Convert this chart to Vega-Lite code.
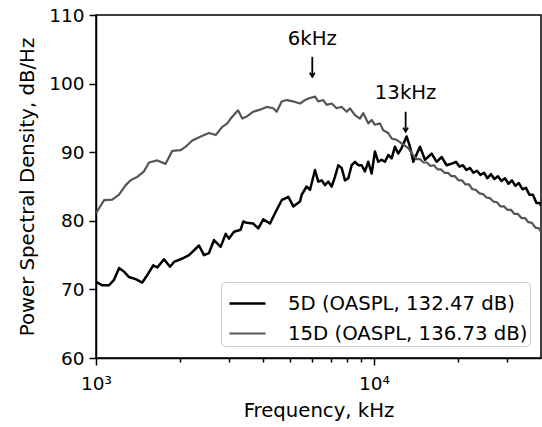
{
  "$schema": "https://vega.github.io/schema/vega-lite/v6.json",
  "width": 445,
  "height": 343,
  "autosize": {"type": "none"},
  "padding": {"left": 96, "top": 15, "right": 1, "bottom": 69},
  "background": "white",
  "config": {
    "font": "DejaVu Sans",
    "view": {"stroke": "black", "strokeWidth": 1.5},
    "axis": {
      "domainColor": "black", "domainWidth": 1.5, "tickColor": "black", "tickWidth": 1.5,
      "labelColor": "black", "titleColor": "black", "labelFont": "DejaVu Sans", "titleFont": "DejaVu Sans",
      "labelFontSize": 18.5, "titleFontSize": 19.7, "titleFontWeight": "normal", "grid": false
    }
  },
  "datasets": {
    "psd": [
      {"f":1000,"psd":71.1,"series":"5D (OASPL, 132.47 dB)"},
      {"f":1054,"psd":70.6,"series":"5D (OASPL, 132.47 dB)"},
      {"f":1114,"psd":70.6,"series":"5D (OASPL, 132.47 dB)"},
      {"f":1161,"psd":71.4,"series":"5D (OASPL, 132.47 dB)"},
      {"f":1210,"psd":73.1,"series":"5D (OASPL, 132.47 dB)"},
      {"f":1261,"psd":72.6,"series":"5D (OASPL, 132.47 dB)"},
      {"f":1314,"psd":71.8,"series":"5D (OASPL, 132.47 dB)"},
      {"f":1389,"psd":71.5,"series":"5D (OASPL, 132.47 dB)"},
      {"f":1467,"psd":71.0,"series":"5D (OASPL, 132.47 dB)"},
      {"f":1530,"psd":72.1,"series":"5D (OASPL, 132.47 dB)"},
      {"f":1607,"psd":73.5,"series":"5D (OASPL, 132.47 dB)"},
      {"f":1662,"psd":73.2,"series":"5D (OASPL, 132.47 dB)"},
      {"f":1756,"psd":74.4,"series":"5D (OASPL, 132.47 dB)"},
      {"f":1846,"psd":73.3,"series":"5D (OASPL, 132.47 dB)"},
      {"f":1908,"psd":74.0,"series":"5D (OASPL, 132.47 dB)"},
      {"f":2044,"psd":74.5,"series":"5D (OASPL, 132.47 dB)"},
      {"f":2161,"psd":75.0,"series":"5D (OASPL, 132.47 dB)"},
      {"f":2347,"psd":76.4,"series":"5D (OASPL, 132.47 dB)"},
      {"f":2446,"psd":75.0,"series":"5D (OASPL, 132.47 dB)"},
      {"f":2550,"psd":75.3,"series":"5D (OASPL, 132.47 dB)"},
      {"f":2658,"psd":77.2,"series":"5D (OASPL, 132.47 dB)"},
      {"f":2809,"psd":76.2,"series":"5D (OASPL, 132.47 dB)"},
      {"f":2928,"psd":78.1,"series":"5D (OASPL, 132.47 dB)"},
      {"f":3009,"psd":77.4,"series":"5D (OASPL, 132.47 dB)"},
      {"f":3136,"psd":78.4,"series":"5D (OASPL, 132.47 dB)"},
      {"f":3316,"psd":78.7,"series":"5D (OASPL, 132.47 dB)"},
      {"f":3388,"psd":79.9,"series":"5D (OASPL, 132.47 dB)"},
      {"f":3484,"psd":79.7,"series":"5D (OASPL, 132.47 dB)"},
      {"f":3680,"psd":79.6,"series":"5D (OASPL, 132.47 dB)"},
      {"f":3836,"psd":78.9,"series":"5D (OASPL, 132.47 dB)"},
      {"f":3998,"psd":80.2,"series":"5D (OASPL, 132.47 dB)"},
      {"f":4226,"psd":79.6,"series":"5D (OASPL, 132.47 dB)"},
      {"f":4405,"psd":81.1,"series":"5D (OASPL, 132.47 dB)"},
      {"f":4656,"psd":83.0,"series":"5D (OASPL, 132.47 dB)"},
      {"f":4918,"psd":83.5,"series":"5D (OASPL, 132.47 dB)"},
      {"f":5126,"psd":82.1,"series":"5D (OASPL, 132.47 dB)"},
      {"f":5418,"psd":82.8,"series":"5D (OASPL, 132.47 dB)"},
      {"f":5495,"psd":83.8,"series":"5D (OASPL, 132.47 dB)"},
      {"f":5727,"psd":85.0,"series":"5D (OASPL, 132.47 dB)"},
      {"f":5887,"psd":84.5,"series":"5D (OASPL, 132.47 dB)"},
      {"f":6135,"psd":87.4,"series":"5D (OASPL, 132.47 dB)"},
      {"f":6304,"psd":85.7,"series":"5D (OASPL, 132.47 dB)"},
      {"f":6485,"psd":85.9,"series":"5D (OASPL, 132.47 dB)"},
      {"f":6664,"psd":85.2,"series":"5D (OASPL, 132.47 dB)"},
      {"f":6848,"psd":85.7,"series":"5D (OASPL, 132.47 dB)"},
      {"f":7046,"psd":85.0,"series":"5D (OASPL, 132.47 dB)"},
      {"f":7241,"psd":86.4,"series":"5D (OASPL, 132.47 dB)"},
      {"f":7441,"psd":88.1,"series":"5D (OASPL, 132.47 dB)"},
      {"f":7653,"psd":87.7,"series":"5D (OASPL, 132.47 dB)"},
      {"f":7865,"psd":85.9,"series":"5D (OASPL, 132.47 dB)"},
      {"f":8085,"psd":86.2,"series":"5D (OASPL, 132.47 dB)"},
      {"f":8314,"psd":88.1,"series":"5D (OASPL, 132.47 dB)"},
      {"f":8544,"psd":88.6,"series":"5D (OASPL, 132.47 dB)"},
      {"f":8780,"psd":88.1,"series":"5D (OASPL, 132.47 dB)"},
      {"f":9032,"psd":88.1,"series":"5D (OASPL, 132.47 dB)"},
      {"f":9281,"psd":87.2,"series":"5D (OASPL, 132.47 dB)"},
      {"f":9539,"psd":88.6,"series":"5D (OASPL, 132.47 dB)"},
      {"f":9811,"psd":86.9,"series":"5D (OASPL, 132.47 dB)"},
      {"f":10083,"psd":90.1,"series":"5D (OASPL, 132.47 dB)"},
      {"f":10363,"psd":88.6,"series":"5D (OASPL, 132.47 dB)"},
      {"f":10659,"psd":88.9,"series":"5D (OASPL, 132.47 dB)"},
      {"f":10953,"psd":88.6,"series":"5D (OASPL, 132.47 dB)"},
      {"f":11256,"psd":89.6,"series":"5D (OASPL, 132.47 dB)"},
      {"f":11578,"psd":89.1,"series":"5D (OASPL, 132.47 dB)"},
      {"f":11897,"psd":90.8,"series":"5D (OASPL, 132.47 dB)"},
      {"f":12226,"psd":89.8,"series":"5D (OASPL, 132.47 dB)"},
      {"f":12575,"psd":90.6,"series":"5D (OASPL, 132.47 dB)"},
      {"f":13106,"psd":92.3,"series":"5D (OASPL, 132.47 dB)"},
      {"f":13479,"psd":90.8,"series":"5D (OASPL, 132.47 dB)"},
      {"f":13853,"psd":88.6,"series":"5D (OASPL, 132.47 dB)"},
      {"f":14640,"psd":90.8,"series":"5D (OASPL, 132.47 dB)"},
      {"f":15260,"psd":88.9,"series":"5D (OASPL, 132.47 dB)"},
      {"f":16131,"psd":89.8,"series":"5D (OASPL, 132.47 dB)"},
      {"f":16810,"psd":88.6,"series":"5D (OASPL, 132.47 dB)"},
      {"f":17523,"psd":89.3,"series":"5D (OASPL, 132.47 dB)"},
      {"f":18256,"psd":88.1,"series":"5D (OASPL, 132.47 dB)"},
      {"f":19287,"psd":88.4,"series":"5D (OASPL, 132.47 dB)"},
      {"f":19724,"psd":88.6,"series":"5D (OASPL, 132.47 dB)"},
      {"f":20300,"psd":87.9,"series":"5D (OASPL, 132.47 dB)"},
      {"f":20900,"psd":88.1,"series":"5D (OASPL, 132.47 dB)"},
      {"f":21510,"psd":87.4,"series":"5D (OASPL, 132.47 dB)"},
      {"f":22140,"psd":87.7,"series":"5D (OASPL, 132.47 dB)"},
      {"f":22800,"psd":87.0,"series":"5D (OASPL, 132.47 dB)"},
      {"f":23470,"psd":87.3,"series":"5D (OASPL, 132.47 dB)"},
      {"f":24160,"psd":86.7,"series":"5D (OASPL, 132.47 dB)"},
      {"f":24870,"psd":87.0,"series":"5D (OASPL, 132.47 dB)"},
      {"f":25600,"psd":86.2,"series":"5D (OASPL, 132.47 dB)"},
      {"f":26360,"psd":86.8,"series":"5D (OASPL, 132.47 dB)"},
      {"f":27130,"psd":86.1,"series":"5D (OASPL, 132.47 dB)"},
      {"f":27930,"psd":86.5,"series":"5D (OASPL, 132.47 dB)"},
      {"f":28750,"psd":85.8,"series":"5D (OASPL, 132.47 dB)"},
      {"f":29600,"psd":86.2,"series":"5D (OASPL, 132.47 dB)"},
      {"f":30470,"psd":85.4,"series":"5D (OASPL, 132.47 dB)"},
      {"f":31360,"psd":85.9,"series":"5D (OASPL, 132.47 dB)"},
      {"f":32280,"psd":85.1,"series":"5D (OASPL, 132.47 dB)"},
      {"f":33230,"psd":85.5,"series":"5D (OASPL, 132.47 dB)"},
      {"f":34210,"psd":84.6,"series":"5D (OASPL, 132.47 dB)"},
      {"f":35220,"psd":84.8,"series":"5D (OASPL, 132.47 dB)"},
      {"f":36250,"psd":83.8,"series":"5D (OASPL, 132.47 dB)"},
      {"f":37320,"psd":83.8,"series":"5D (OASPL, 132.47 dB)"},
      {"f":38420,"psd":82.6,"series":"5D (OASPL, 132.47 dB)"},
      {"f":39550,"psd":82.6,"series":"5D (OASPL, 132.47 dB)"},
      {"f":39880,"psd":82.2,"series":"5D (OASPL, 132.47 dB)"},
      {"f":1000,"psd":81.1,"series":"15D (OASPL, 136.73 dB)"},
      {"f":1069,"psd":83.0,"series":"15D (OASPL, 136.73 dB)"},
      {"f":1145,"psd":83.1,"series":"15D (OASPL, 136.73 dB)"},
      {"f":1210,"psd":83.8,"series":"15D (OASPL, 136.73 dB)"},
      {"f":1279,"psd":85.2,"series":"15D (OASPL, 136.73 dB)"},
      {"f":1333,"psd":85.9,"series":"15D (OASPL, 136.73 dB)"},
      {"f":1408,"psd":86.4,"series":"15D (OASPL, 136.73 dB)"},
      {"f":1488,"psd":87.2,"series":"15D (OASPL, 136.73 dB)"},
      {"f":1551,"psd":88.5,"series":"15D (OASPL, 136.73 dB)"},
      {"f":1662,"psd":88.8,"series":"15D (OASPL, 136.73 dB)"},
      {"f":1781,"psd":88.3,"series":"15D (OASPL, 136.73 dB)"},
      {"f":1881,"psd":90.2,"series":"15D (OASPL, 136.73 dB)"},
      {"f":2017,"psd":90.3,"series":"15D (OASPL, 136.73 dB)"},
      {"f":2102,"psd":90.8,"series":"15D (OASPL, 136.73 dB)"},
      {"f":2221,"psd":91.7,"series":"15D (OASPL, 136.73 dB)"},
      {"f":2380,"psd":92.3,"series":"15D (OASPL, 136.73 dB)"},
      {"f":2550,"psd":92.8,"series":"15D (OASPL, 136.73 dB)"},
      {"f":2696,"psd":92.5,"series":"15D (OASPL, 136.73 dB)"},
      {"f":2847,"psd":93.7,"series":"15D (OASPL, 136.73 dB)"},
      {"f":2967,"psd":94.2,"series":"15D (OASPL, 136.73 dB)"},
      {"f":3052,"psd":94.9,"series":"15D (OASPL, 136.73 dB)"},
      {"f":3243,"psd":96.1,"series":"15D (OASPL, 136.73 dB)"},
      {"f":3360,"psd":94.9,"series":"15D (OASPL, 136.73 dB)"},
      {"f":3484,"psd":95.2,"series":"15D (OASPL, 136.73 dB)"},
      {"f":3680,"psd":95.9,"series":"15D (OASPL, 136.73 dB)"},
      {"f":3890,"psd":96.2,"series":"15D (OASPL, 136.73 dB)"},
      {"f":4111,"psd":96.6,"series":"15D (OASPL, 136.73 dB)"},
      {"f":4343,"psd":96.4,"series":"15D (OASPL, 136.73 dB)"},
      {"f":4467,"psd":95.9,"series":"15D (OASPL, 136.73 dB)"},
      {"f":4656,"psd":97.4,"series":"15D (OASPL, 136.73 dB)"},
      {"f":4853,"psd":97.6,"series":"15D (OASPL, 136.73 dB)"},
      {"f":5126,"psd":97.4,"series":"15D (OASPL, 136.73 dB)"},
      {"f":5418,"psd":97.1,"series":"15D (OASPL, 136.73 dB)"},
      {"f":5647,"psd":97.6,"series":"15D (OASPL, 136.73 dB)"},
      {"f":5887,"psd":97.9,"series":"15D (OASPL, 136.73 dB)"},
      {"f":6135,"psd":98.1,"series":"15D (OASPL, 136.73 dB)"},
      {"f":6304,"psd":97.4,"series":"15D (OASPL, 136.73 dB)"},
      {"f":6571,"psd":97.6,"series":"15D (OASPL, 136.73 dB)"},
      {"f":6760,"psd":96.9,"series":"15D (OASPL, 136.73 dB)"},
      {"f":7046,"psd":97.1,"series":"15D (OASPL, 136.73 dB)"},
      {"f":7341,"psd":96.4,"series":"15D (OASPL, 136.73 dB)"},
      {"f":7653,"psd":96.6,"series":"15D (OASPL, 136.73 dB)"},
      {"f":7978,"psd":95.9,"series":"15D (OASPL, 136.73 dB)"},
      {"f":8198,"psd":96.4,"series":"15D (OASPL, 136.73 dB)"},
      {"f":8544,"psd":95.4,"series":"15D (OASPL, 136.73 dB)"},
      {"f":8904,"psd":94.9,"series":"15D (OASPL, 136.73 dB)"},
      {"f":9152,"psd":95.7,"series":"15D (OASPL, 136.73 dB)"},
      {"f":9539,"psd":94.2,"series":"15D (OASPL, 136.73 dB)"},
      {"f":9811,"psd":94.7,"series":"15D (OASPL, 136.73 dB)"},
      {"f":10083,"psd":94.0,"series":"15D (OASPL, 136.73 dB)"},
      {"f":10510,"psd":94.2,"series":"15D (OASPL, 136.73 dB)"},
      {"f":10801,"psd":93.2,"series":"15D (OASPL, 136.73 dB)"},
      {"f":11256,"psd":92.8,"series":"15D (OASPL, 136.73 dB)"},
      {"f":11578,"psd":92.0,"series":"15D (OASPL, 136.73 dB)"},
      {"f":12067,"psd":91.8,"series":"15D (OASPL, 136.73 dB)"},
      {"f":12575,"psd":91.3,"series":"15D (OASPL, 136.73 dB)"},
      {"f":13291,"psd":90.6,"series":"15D (OASPL, 136.73 dB)"},
      {"f":13810,"psd":89.6,"series":"15D (OASPL, 136.73 dB)"},
      {"f":14220,"psd":89.0,"series":"15D (OASPL, 136.73 dB)"},
      {"f":14640,"psd":89.0,"series":"15D (OASPL, 136.73 dB)"},
      {"f":15070,"psd":88.5,"series":"15D (OASPL, 136.73 dB)"},
      {"f":15510,"psd":88.5,"series":"15D (OASPL, 136.73 dB)"},
      {"f":15970,"psd":88.0,"series":"15D (OASPL, 136.73 dB)"},
      {"f":16440,"psd":88.1,"series":"15D (OASPL, 136.73 dB)"},
      {"f":16920,"psd":87.5,"series":"15D (OASPL, 136.73 dB)"},
      {"f":17420,"psd":87.5,"series":"15D (OASPL, 136.73 dB)"},
      {"f":17930,"psd":87.0,"series":"15D (OASPL, 136.73 dB)"},
      {"f":18460,"psd":87.0,"series":"15D (OASPL, 136.73 dB)"},
      {"f":19000,"psd":86.5,"series":"15D (OASPL, 136.73 dB)"},
      {"f":19560,"psd":86.5,"series":"15D (OASPL, 136.73 dB)"},
      {"f":20140,"psd":85.9,"series":"15D (OASPL, 136.73 dB)"},
      {"f":20730,"psd":85.9,"series":"15D (OASPL, 136.73 dB)"},
      {"f":21340,"psd":85.3,"series":"15D (OASPL, 136.73 dB)"},
      {"f":21960,"psd":85.3,"series":"15D (OASPL, 136.73 dB)"},
      {"f":22610,"psd":84.6,"series":"15D (OASPL, 136.73 dB)"},
      {"f":23280,"psd":84.5,"series":"15D (OASPL, 136.73 dB)"},
      {"f":23960,"psd":84.0,"series":"15D (OASPL, 136.73 dB)"},
      {"f":24670,"psd":83.9,"series":"15D (OASPL, 136.73 dB)"},
      {"f":25390,"psd":83.4,"series":"15D (OASPL, 136.73 dB)"},
      {"f":26150,"psd":83.3,"series":"15D (OASPL, 136.73 dB)"},
      {"f":26910,"psd":82.8,"series":"15D (OASPL, 136.73 dB)"},
      {"f":27700,"psd":82.7,"series":"15D (OASPL, 136.73 dB)"},
      {"f":28510,"psd":82.1,"series":"15D (OASPL, 136.73 dB)"},
      {"f":29350,"psd":82.1,"series":"15D (OASPL, 136.73 dB)"},
      {"f":30220,"psd":81.6,"series":"15D (OASPL, 136.73 dB)"},
      {"f":31100,"psd":81.6,"series":"15D (OASPL, 136.73 dB)"},
      {"f":32020,"psd":81.0,"series":"15D (OASPL, 136.73 dB)"},
      {"f":32960,"psd":81.0,"series":"15D (OASPL, 136.73 dB)"},
      {"f":33930,"psd":80.4,"series":"15D (OASPL, 136.73 dB)"},
      {"f":34930,"psd":80.4,"series":"15D (OASPL, 136.73 dB)"},
      {"f":35950,"psd":79.8,"series":"15D (OASPL, 136.73 dB)"},
      {"f":37010,"psd":79.7,"series":"15D (OASPL, 136.73 dB)"},
      {"f":38100,"psd":79.0,"series":"15D (OASPL, 136.73 dB)"},
      {"f":39230,"psd":78.9,"series":"15D (OASPL, 136.73 dB)"},
      {"f":39880,"psd":78.4,"series":"15D (OASPL, 136.73 dB)"}
    ],
    "labels": [
      {"f":6000,"y":105.6,"label":"6kHz"},
      {"f":13000,"y":97.7,"label":"13kHz"}
    ],
    "arrows": [
      {"f":6000,"y1":103.9,"y2":101.0},
      {"f":13000,"y1":95.9,"y2":93.0}
    ]
  },
  "layer": [
    {
      "data": {"name": "psd"},
      "mark": {"type": "line", "clip": true, "strokeJoin": "round"},
      "encoding": {
        "x": {
          "field": "f", "type": "quantitative",
          "scale": {"type": "log", "domain": [1000, 39900], "nice": false},
          "axis": {
            "title": "Frequency, kHz",
            "values": [1000,2000,3000,4000,5000,6000,7000,8000,9000,10000,20000,30000],
            "labelExpr": "datum.value == 1000 ? '10³' : (datum.value == 10000 ? '10⁴' : '')",
            "tickSize": {"condition": {"test": "datum.value == 1000 || datum.value == 10000", "value": 7}, "value": 4},
            "labelPadding": 9, "titlePadding": 8, "labelOverlap": false, "labelFlush": false
          }
        },
        "y": {
          "field": "psd", "type": "quantitative",
          "scale": {"domain": [60, 110], "nice": false},
          "axis": {
            "title": "Power Spectral Density, dB/Hz",
            "values": [60,70,80,90,100,110],
            "tickSize": 7, "labelPadding": 5, "titlePadding": 11
          }
        },
        "color": {
          "field": "series", "type": "nominal",
          "scale": {"domain": ["5D (OASPL, 132.47 dB)", "15D (OASPL, 136.73 dB)"], "range": ["#000000", "#555555"]},
          "legend": {
            "title": null, "orient": "none", "legendX": 125, "legendY": 267,
            "symbolType": "stroke", "symbolSize": 1296, "symbolStrokeWidth": 2.5, "symbolOffset": 5,
            "labelFontSize": 19.7, "labelFont": "DejaVu Sans", "labelColor": "black", "labelOffset": 21,
            "fillColor": "white", "strokeColor": "#cccccc", "cornerRadius": 4, "padding": 2,
            "rowPadding": -4, "labelLimit": 400
          }
        },
        "strokeWidth": {
          "field": "series", "type": "nominal",
          "scale": {"domain": ["5D (OASPL, 132.47 dB)", "15D (OASPL, 136.73 dB)"], "range": [2.5, 2.2]},
          "legend": null
        }
      }
    },
    {
      "data": {"name": "labels"},
      "mark": {"type": "text", "fontSize": 19.7, "font": "DejaVu Sans", "color": "black", "align": "center", "baseline": "alphabetic"},
      "encoding": {
        "x": {"field": "f", "type": "quantitative"},
        "y": {"field": "y", "type": "quantitative"},
        "text": {"field": "label"}
      }
    },
    {
      "data": {"name": "arrows"},
      "mark": {"type": "rule", "color": "black", "strokeWidth": 1.8},
      "encoding": {
        "x": {"field": "f", "type": "quantitative"},
        "y": {"field": "y1", "type": "quantitative"},
        "y2": {"field": "y2"}
      }
    },
    {
      "data": {"name": "arrows"},
      "mark": {"type": "point", "shape": "M-1,-1.6L0,0L1,-1.6", "filled": false, "color": "black", "strokeWidth": 1.8, "size": 25, "opacity": 1},
      "encoding": {
        "x": {"field": "f", "type": "quantitative"},
        "y": {"field": "y2", "type": "quantitative"}
      }
    }
  ]
}
